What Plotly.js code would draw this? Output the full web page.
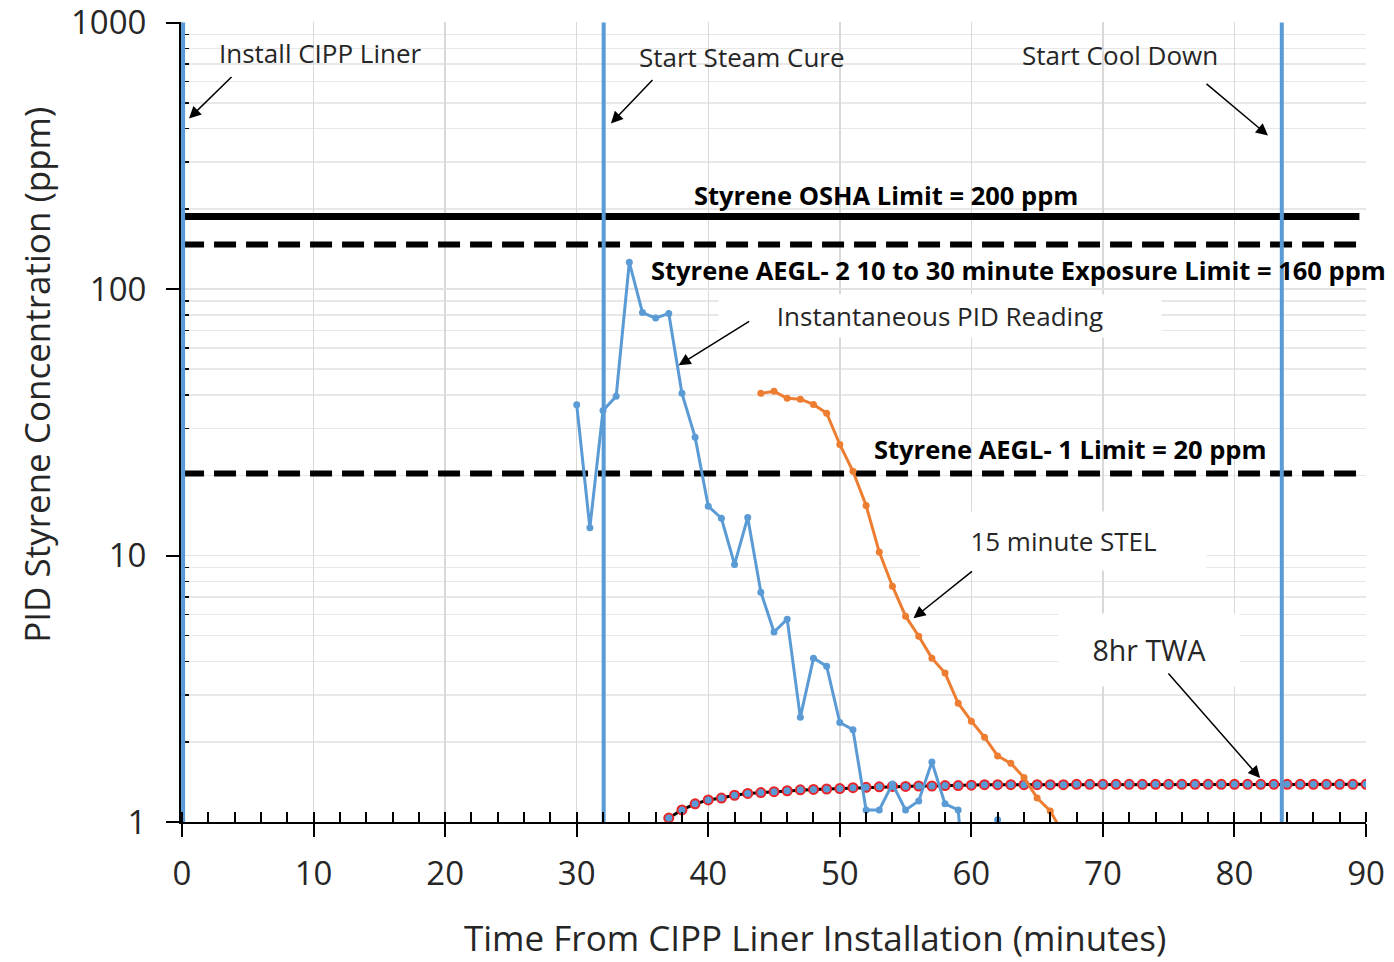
<!DOCTYPE html>
<html>
<head>
<meta charset="utf-8">
<script src="https://cdn.plot.ly/plotly-3.0.1.min.js"></script>
<style>html,body{margin:0;padding:0;background:#fff;}#chart{width:1394px;height:962px;}</style>
</head>
<body>
<div id="chart"></div>
<script>
// ---- Data ----
const pidMinutes = [30,31,32,33,34,35,36,37,38,39,40,41,42,43,44,45,46,47,48,49,50,51,52,53,54,55,56,57,58,59,60,61,62,63];
const pidPpm = [36.8,12.7,35,39.6,126,81.6,77.8,81,40.6,27.8,15.3,13.8,9.26,13.9,7.28,5.16,5.77,2.47,4.12,3.84,2.36,2.22,1.11,1.11,1.39,1.11,1.2,1.68,1.17,1.11,0.3,0.3,1.02,0.3];

const stelMinutes = [44,45,46,47,48,49,50,51,52,53,54,55,56,57,58,59,60,61,62,63,64,65,66,67];
const stelPpm = [40.6,41.3,38.9,38.6,36.9,34.2,26.1,20.7,15.4,10.3,7.67,5.92,4.98,4.12,3.62,2.79,2.39,2.08,1.77,1.66,1.47,1.23,1.1,0.9];

const twaMinutes = [37,38,39,40,41,42,43,44,45,46,47,48,49,50,51,52,53,54,55,56,57,58,59,60,61,62,63,64,65,66,67,68,69,70,71,72,73,74,75,76,77,78,79,80,81,82,83,84,85,86,87,88,89,90];
const twaPpm = [1.035,1.11,1.17,1.21,1.23,1.26,1.28,1.29,1.30,1.31,1.32,1.325,1.33,1.335,1.345,1.35,1.355,1.36,1.36,1.365,1.365,1.37,1.37,1.375,1.38,1.38,1.38,1.38,1.38,1.38,1.38,1.385,1.385,1.385,1.385,1.385,1.385,1.385,1.385,1.385,1.385,1.385,1.385,1.385,1.385,1.385,1.385,1.385,1.385,1.385,1.385,1.385,1.385,1.385];

// exposure limit reference lines (ppm) drawn across the time span
const limitSpan = [0, 89.5];
const oshaLimit = [187, 187];
const aegl2Limit = [147, 147];
const aegl1Limit = [20.3, 20.3];

// event markers (minutes)
const eventNames = ["Install CIPP Liner", "Start Steam Cure", "Start Cool Down"];
const eventMinutes = [0.08, 32.05, 83.6];
const eventSpanPpm = [1, 1000];

const xTickVals = [0,10,20,30,40,50,60,70,80,90];
const yTickVals = [1,10,100,1000];
const yTickText = ["1","10","100","1000"];

// ---- Build ----
const BLUE = '#5B9BD5', ORANGE = '#ED7D31', TXT = '#262626';
const FONT = 'Open Sans, sans-serif';

const traces = [];
traces.push({x: limitSpan, y: oshaLimit, mode: 'lines', line: {color: '#000', width: 7}, hoverinfo: 'skip'});
traces.push({x: limitSpan, y: aegl2Limit, mode: 'lines', line: {color: '#000', width: 6, dash: '22px,10px'}, hoverinfo: 'skip'});
traces.push({x: limitSpan, y: aegl1Limit, mode: 'lines', line: {color: '#000', width: 6, dash: '22px,10px'}, hoverinfo: 'skip'});
traces.push({x: twaMinutes, y: twaPpm, mode: 'lines+markers', name: '8hr TWA',
  line: {color: '#000', width: 3}, marker: {color: BLUE, size: 9, line: {color: '#E8262A', width: 2}}});
traces.push({x: pidMinutes, y: pidPpm, mode: 'lines+markers', name: 'Instantaneous PID Reading',
  line: {color: BLUE, width: 3}, marker: {color: BLUE, size: 7}});
traces.push({x: stelMinutes, y: stelPpm, mode: 'lines+markers', name: '15 minute STEL',
  line: {color: ORANGE, width: 3}, marker: {color: ORANGE, size: 7}});
eventMinutes.forEach((m, i) => {
  traces.push({x: [m, m], y: eventSpanPpm, mode: 'lines', name: eventNames[i], line: {color: BLUE, width: 4}, hoverinfo: 'skip'});
});
// invisible trace on the overlay axis so its major inside ticks render
traces.push({x: [0, 90], y: [1, 1], xaxis: 'x2', mode: 'lines', line: {width: 0}, hoverinfo: 'skip', showlegend: false});

// minor log ticks 2..9 for each decade
const minorY = [];
for (let d = 1; d < 1000; d *= 10) for (let k = 2; k <= 9; k++) minorY.push(k * d);

function txt(text, x, y, opts) {
  return Object.assign({x: x, y: y, xref: 'x', yref: 'y', text: text, showarrow: false,
    font: {family: FONT, size: 26, color: TXT}}, opts || {});
}
function arrow(x, y, ax, ay) {
  return {x: x, y: y, xref: 'x', yref: 'y', text: '', showarrow: true, ax: ax, ay: ay,
    arrowhead: 2, arrowsize: 1.6, arrowwidth: 1.5, arrowcolor: '#000'};
}
const D = 266.7; // px per decade helper for label placement
const boldFont = {family: FONT, size: 25.5, color: '#000'};

const annotations = [
  txt('Install CIPP Liner', 10.56, (822-52)/D),
  txt('Start Steam Cure', 42.6, (822-56)/D),
  txt('Start Cool Down', 71.3, (822-54)/D),
  txt('<b>Styrene OSHA Limit = 200 ppm</b>', 53.5, (822-194)/D, {font: boldFont}),
  txt('<b>Styrene AEGL- 2 10 to 30 minute Exposure Limit = 160 ppm</b>', 35.5, (822-270)/D, {xanchor: 'left', font: boldFont}),
  txt('Instantaneous PID Reading', 57.6, (822-316)/D, {bgcolor: '#fff', width: 440, height: 40}),
  txt('<b>Styrene AEGL- 1 Limit = 20 ppm</b>', 67.5, (822-449)/D, {font: boldFont}),
  txt('15 minute STEL', 67.0, (822-541)/D, {bgcolor: '#fff', width: 283, height: 56}),
  txt('8hr TWA', 73.5, (822-650)/D, {bgcolor: '#fff', width: 178, height: 70, font: {family: FONT, size: 28.5, color: TXT}}),
  arrow(0.53, (822-118)/D, 44, -43),
  arrow(32.6, (822-123)/D, 43, -45),
  arrow(82.55, (822-135)/D, -63, -53),
  arrow(37.75, (822-365)/D, 72, -45),
  arrow(55.6, (822-618)/D, 60, -48),
  arrow(81.95, (822-778)/D, -93, -106),
  {text: 'Time From CIPP Liner Installation (minutes)', xref: 'paper', yref: 'paper', x: 0.535, y: -0.1445,
   xanchor: 'center', yanchor: 'middle', showarrow: false, font: {family: FONT, size: 35, color: TXT}},
  {text: 'PID Styrene Concentration (ppm)', xref: 'paper', yref: 'paper', x: -0.1215, y: 0.559, textangle: -90,
   xanchor: 'center', yanchor: 'middle', showarrow: false, font: {family: FONT, size: 35, color: TXT}}
];

const layout = {
  width: 1394, height: 962,
  margin: {l: 181, r: 28, t: 22, b: 140},
  paper_bgcolor: '#fff', plot_bgcolor: '#fff',
  showlegend: false,
  font: {family: FONT, color: TXT},
  xaxis: {
    range: [-0.08, 90], tickvals: xTickVals, ticks: 'outside', ticklen: 13, tickwidth: 2, tickcolor: '#000',
    showline: true, linecolor: '#000', linewidth: 2, zeroline: false,
    showgrid: true, gridcolor: '#d9d9d9', gridwidth: 1.5,
    tickfont: {family: FONT, size: 33, color: TXT}, ticklabelstandoff: 8, ticklabeloverflow: 'allow',
    minor: {dtick: 2, ticks: 'inside', ticklen: 10, tickwidth: 2, tickcolor: '#000', showgrid: false}
  },
  xaxis2: {
    overlaying: 'x', anchor: 'y', side: 'bottom', range: [-0.08, 90], tickvals: xTickVals,
    ticks: 'inside', ticklen: 10, tickwidth: 2, tickcolor: '#000', showticklabels: false,
    showgrid: false, zeroline: false, showline: false
  },
  yaxis: {
    type: 'log', range: [0, 3.002], tickvals: yTickVals, ticktext: yTickText,
    ticks: 'outside', ticklen: 13, tickwidth: 2, tickcolor: '#000',
    showline: true, linecolor: '#000', linewidth: 2, zeroline: false, layer: 'below traces',
    showgrid: true, gridcolor: '#e3e3e3', gridwidth: 1.5,
    tickfont: {family: FONT, size: 33, color: TXT}, ticklabelstandoff: 13, ticklabeloverflow: 'allow',
    minor: {tickmode: 'array', tickvals: minorY, ticks: 'inside', ticklen: 8, tickwidth: 1.5, tickcolor: '#000', showgrid: true, gridcolor: '#e8e8e8', gridwidth: 1.5}
  },
  annotations: annotations
};

Plotly.newPlot('chart', traces, layout, {displayModeBar: false, staticPlot: true});
</script>
</body>
</html>
